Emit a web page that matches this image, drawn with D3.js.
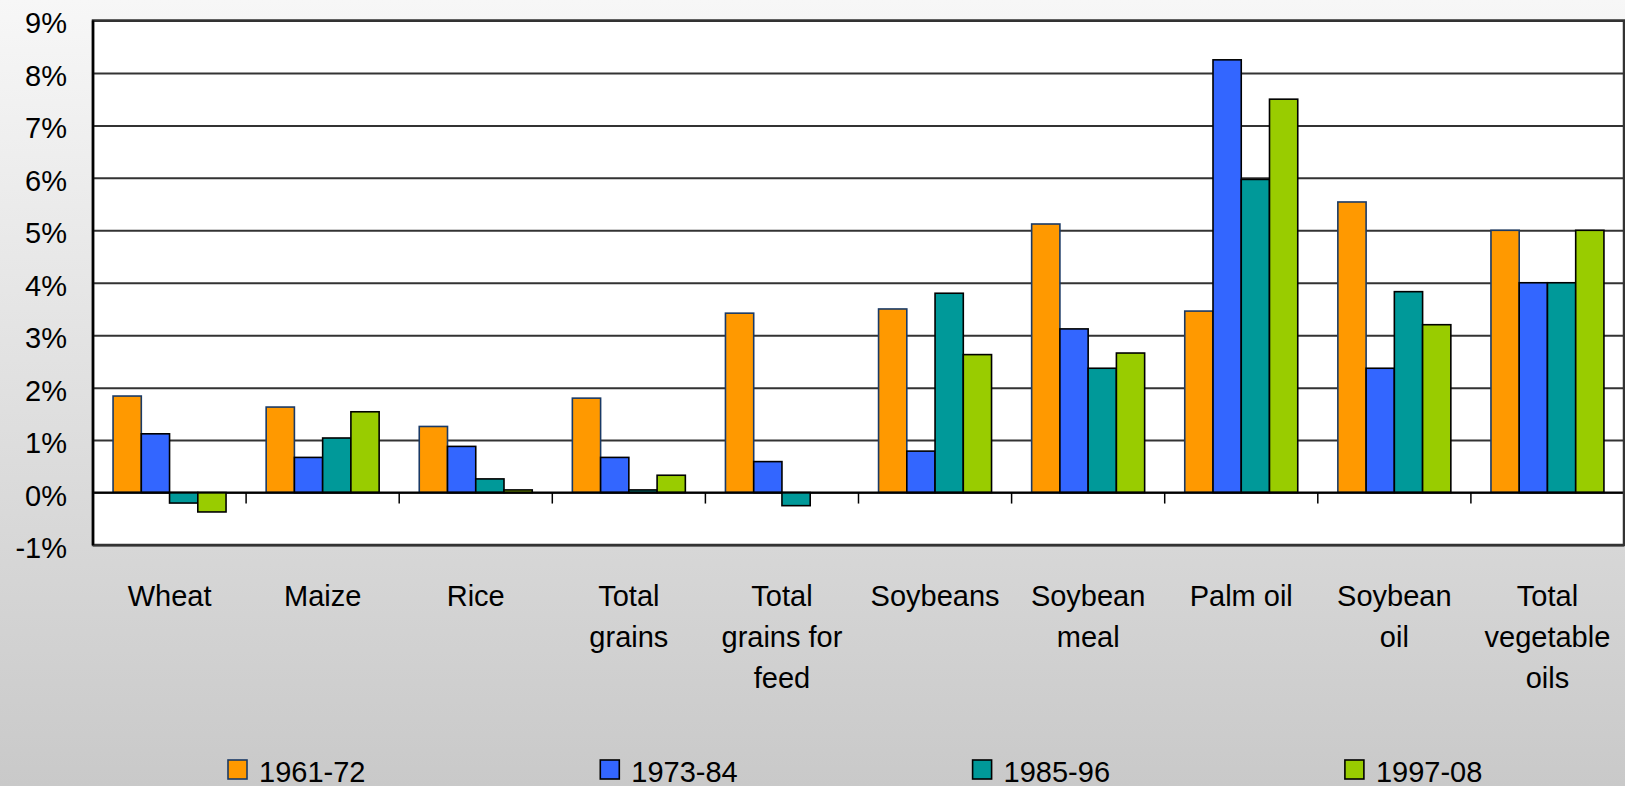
<!DOCTYPE html>
<html>
<head>
<meta charset="utf-8">
<script src="https://cdn.jsdelivr.net/npm/d3@7"></script>
<style>
  html, body { margin: 0; padding: 0; }
  body { width: 1625px; height: 786px; overflow: hidden; }
  svg text { font-family: "Liberation Sans", Arial, sans-serif; fill: #000; }
</style>
</head>
<body>
<svg id="chart" width="1625" height="786"></svg>
<script>
// data
var categories = ["Wheat", "Maize", "Rice", "Total grains", "Total grains for feed",
  "Soybeans", "Soybean meal", "Palm oil", "Soybean oil", "Total vegetable oils"];
var categoryLines = [["Wheat"], ["Maize"], ["Rice"], ["Total", "grains"], ["Total", "grains for", "feed"],
  ["Soybeans"], ["Soybean", "meal"], ["Palm oil"], ["Soybean", "oil"], ["Total", "vegetable", "oils"]];
var seriesNames = ["1961-72", "1973-84", "1985-96", "1997-08"];
var s1961 = [1.84, 1.63, 1.26, 1.80, 3.42, 3.50, 5.12, 3.46, 5.54, 5.00];
var s1973 = [1.12, 0.67, 0.88, 0.67, 0.59, 0.79, 3.12, 8.25, 2.37, 4.00];
var s1985 = [-0.20, 1.04, 0.26, 0.05, -0.25, 3.80, 2.37, 5.97, 3.83, 4.00];
var s1997 = [-0.37, 1.54, 0.05, 0.33, 0, 2.63, 2.66, 7.50, 3.20, 5.00];
var yTicks = [-1, 0, 1, 2, 3, 4, 5, 6, 7, 8, 9];

var seriesValues = [s1961, s1973, s1985, s1997];
var colors = ["#FF9900", "#3366FF", "#009999", "#99CC00"];
var strokes = ["#1a3a66", "#000", "#000", "#000"];

var svg = d3.select("#chart");

// background gradient
var defs = svg.append("defs");
var grad = defs.append("linearGradient").attr("id", "bg").attr("x1", 0).attr("y1", 0).attr("x2", 0).attr("y2", 1);
grad.append("stop").attr("offset", "0%").attr("stop-color", "#f7f7f7");
grad.append("stop").attr("offset", "100%").attr("stop-color", "#c9c9c9");
svg.append("rect").attr("width", 1625).attr("height", 786).attr("fill", "url(#bg)");

var plotLeft = 93, plotRight = 1624, plotTop = 20.5, plotBottom = 545;
var x0 = d3.scaleBand().domain(categories).range([plotLeft, plotRight]).paddingInner(0).paddingOuter(0);
var x1 = d3.scaleBand().domain(seriesNames).range([0, x0.bandwidth()]).paddingInner(0).paddingOuter(0.71);
var y = d3.scaleLinear().domain([-1, 9]).range([plotBottom, plotTop]);

// plot area
svg.append("rect").attr("x", plotLeft).attr("y", plotTop)
  .attr("width", plotRight - plotLeft).attr("height", plotBottom - plotTop)
  .attr("fill", "#fff");

// gridlines
svg.append("g")
  .attr("transform", "translate(" + plotLeft + ",0)")
  .call(d3.axisLeft(y).tickValues(yTicks).tickSize(-(plotRight - plotLeft)).tickFormat(""))
  .call(function(g) {
    g.select(".domain").remove();
    g.selectAll(".tick line").attr("stroke", "#333").attr("stroke-width", 2);
  });

// y labels
svg.append("g")
  .attr("transform", "translate(" + plotLeft + ",0)")
  .call(d3.axisLeft(y).tickValues(yTicks).tickSize(0).tickPadding(26).tickFormat(function(d) { return d + "%"; }))
  .call(function(g) {
    g.select(".domain").remove();
    g.selectAll(".tick text").attr("font-size", 29).attr("dy", "0.43em")
      .style("font-family", "'Liberation Sans', Arial, sans-serif").attr("fill", "#000");
  });

// bars
var groups = svg.append("g").selectAll("g")
  .data(categories)
  .enter().append("g")
  .attr("transform", function(d) { return "translate(" + x0(d) + ",0)"; });

groups.selectAll("rect")
  .data(function(d, i) {
    return seriesNames.map(function(s, j) { return { s: s, j: j, v: seriesValues[j][i] }; });
  })
  .enter().append("rect")
  .attr("x", function(d) { return x1(d.s); })
  .attr("width", x1.bandwidth())
  .attr("y", function(d) { return y(Math.max(0, d.v)); })
  .attr("height", function(d) { return Math.abs(y(d.v) - y(0)); })
  .attr("fill", function(d) { return colors[d.j]; })
  .attr("stroke", function(d) { return strokes[d.j]; })
  .attr("stroke-width", 1.6);

// zero line and category ticks
svg.append("line").attr("x1", plotLeft).attr("x2", plotRight).attr("y1", y(0)).attr("y2", y(0))
  .attr("stroke", "#000").attr("stroke-width", 2);
svg.append("g").selectAll("line")
  .data(categories.slice(1))
  .enter().append("line")
  .attr("x1", function(d) { return x0(d); })
  .attr("x2", function(d) { return x0(d); })
  .attr("y1", y(0)).attr("y2", y(0) + 11)
  .attr("stroke", "#000").attr("stroke-width", 1.5);

// plot border
svg.append("rect").attr("x", plotLeft).attr("y", plotTop)
  .attr("width", plotRight - plotLeft).attr("height", plotBottom - plotTop)
  .attr("fill", "none").attr("stroke", "#333").attr("stroke-width", 2.5);
svg.append("line").attr("x1", plotLeft).attr("x2", plotLeft).attr("y1", plotTop).attr("y2", plotBottom)
  .attr("stroke", "#000").attr("stroke-width", 2.5);

// category labels
var labels = svg.append("g").selectAll("text")
  .data(categories)
  .enter().append("text")
  .attr("text-anchor", "middle")
  .attr("font-size", 29)
  .attr("x", function(d) { return x0(d) + x0.bandwidth() / 2; })
  .attr("y", 606);
labels.selectAll("tspan")
  .data(function(d, i) { return categoryLines[i]; })
  .enter().append("tspan")
  .attr("x", function() { return d3.select(this.parentNode).attr("x"); })
  .attr("dy", function(d, i) { return i === 0 ? 0 : 41; })
  .text(function(d) { return d; });

// legend
var legend = svg.append("g").selectAll("g")
  .data(seriesNames)
  .enter().append("g")
  .attr("transform", function(d, i) { return "translate(" + (228 + i * 372.3) + ",760)"; });
legend.append("rect")
  .attr("width", 19).attr("height", 19)
  .attr("fill", function(d, i) { return colors[i]; })
  .attr("stroke", function(d, i) { return strokes[i]; })
  .attr("stroke-width", 1.6);
legend.append("text")
  .attr("x", 31).attr("y", 21.5)
  .attr("font-size", 29)
  .text(function(d) { return d; });
</script>
</body>
</html>
